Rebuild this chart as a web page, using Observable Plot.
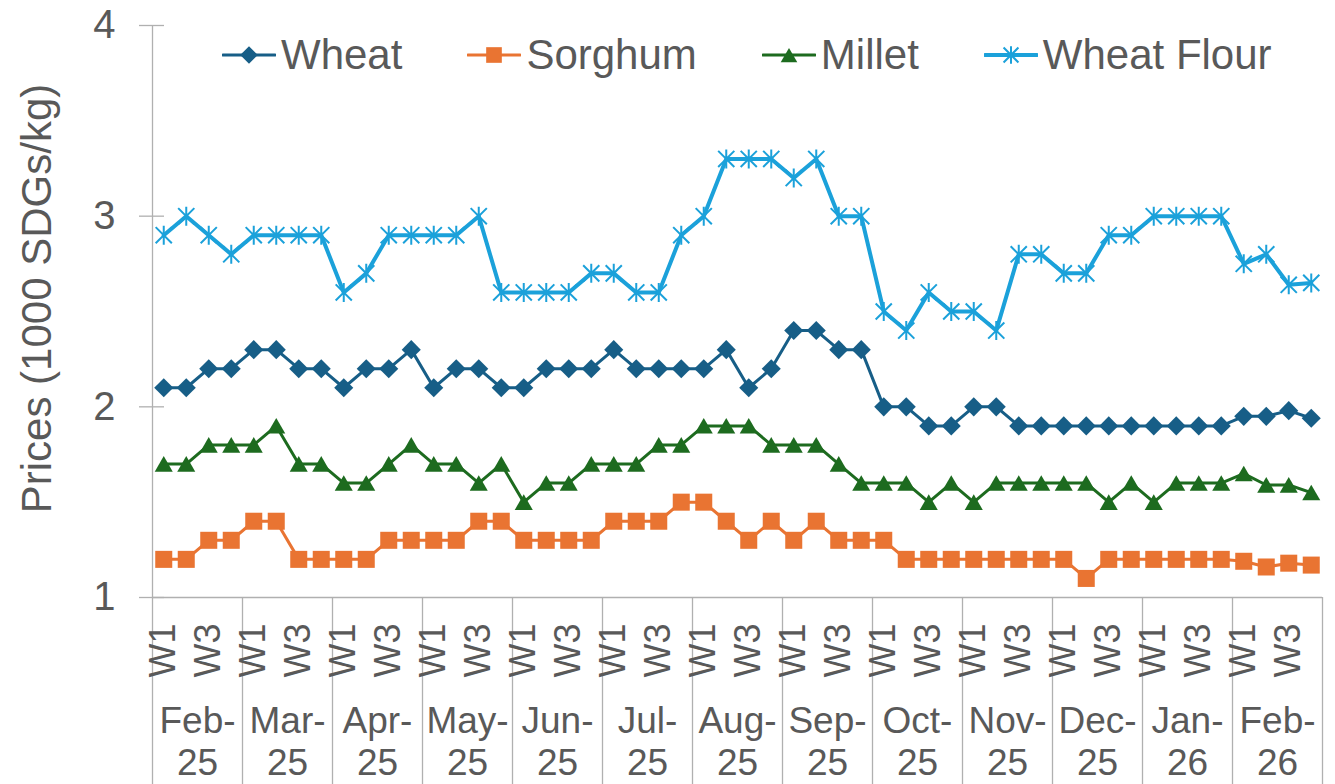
<!DOCTYPE html>
<html><head><meta charset="utf-8">
<script src="https://cdn.jsdelivr.net/npm/d3@7"></script>
<script src="https://cdn.jsdelivr.net/npm/@observablehq/plot@0.6"></script>
<style>
body{margin:0;background:#fff;font-family:"Liberation Sans",Arial,sans-serif;}
#wrap{position:relative;width:1335px;height:784px;}
#legend{position:absolute;left:222px;top:34px;display:flex;align-items:center;gap:65px;font-size:42px;line-height:42px;color:#595959;white-space:nowrap;}
.item{display:flex;align-items:center;}
.item svg{margin-right:5px;display:block;}
</style></head><body><div id="wrap"><div id="legend"></div></div>
<script>
// ---- data ----
const months = ["Feb-\n25","Mar-\n25","Apr-\n25","May-\n25","Jun-\n25","Jul-\n25","Aug-\n25","Sep-\n25","Oct-\n25","Nov-\n25","Dec-\n25","Jan-\n26","Feb-\n26"];
const weeks = ["W1","W2","W3","W4"];
const shownWeeks = ["W1","W3"];
const yTicks = [1,2,3,4];
const yTitle = "Prices (1000 SDGs/kg)";
const seriesNames = ["Wheat","Sorghum","Millet","Wheat Flour"];

const wheat = [2.1,2.1,2.2,2.2, 2.3,2.3,2.2,2.2, 2.1,2.2,2.2,2.3, 2.1,2.2,2.2,2.1, 2.1,2.2,2.2,2.2, 2.3,2.2,2.2,2.2, 2.2,2.3,2.1,2.2, 2.4,2.4,2.3,2.3, 2.0,2.0,1.9,1.9, 2.0,2.0,1.9,1.9, 1.9,1.9,1.9,1.9, 1.9,1.9,1.9,1.9, 1.95,1.95,1.98,1.94];
const sorghum = [1.2,1.2,1.3,1.3, 1.4,1.4,1.2,1.2, 1.2,1.2,1.3,1.3, 1.3,1.3,1.4,1.4, 1.3,1.3,1.3,1.3, 1.4,1.4,1.4,1.5, 1.5,1.4,1.3,1.4, 1.3,1.4,1.3,1.3, 1.3,1.2,1.2,1.2, 1.2,1.2,1.2,1.2, 1.2,1.1,1.2,1.2, 1.2,1.2,1.2,1.2, 1.19,1.16,1.18,1.17];
const millet = [1.7,1.7,1.8,1.8, 1.8,1.9,1.7,1.7, 1.6,1.6,1.7,1.8, 1.7,1.7,1.6,1.7, 1.5,1.6,1.6,1.7, 1.7,1.7,1.8,1.8, 1.9,1.9,1.9,1.8, 1.8,1.8,1.7,1.6, 1.6,1.6,1.5,1.6, 1.5,1.6,1.6,1.6, 1.6,1.6,1.5,1.6, 1.5,1.6,1.6,1.6, 1.65,1.59,1.59,1.55];
const wheatFlour = [2.9,3.0,2.9,2.8, 2.9,2.9,2.9,2.9, 2.6,2.7,2.9,2.9, 2.9,2.9,3.0,2.6, 2.6,2.6,2.6,2.7, 2.7,2.6,2.6,2.9, 3.0,3.3,3.3,3.3, 3.2,3.3,3.0,3.0, 2.5,2.4,2.6,2.5, 2.5,2.4,2.8,2.8, 2.7,2.7,2.9,2.9, 3.0,3.0,3.0,3.0, 2.75,2.8,2.64,2.65];

// ---- styles ----
const textColor = "#595959";
const lineColor = "#b0b0b0";
const asterisk = {
  draw(ctx, size) {
    const r = Math.sqrt(size / Math.PI), d = r * 0.85;
    ctx.moveTo(0, -r); ctx.lineTo(0, r);
    ctx.moveTo(-d, -d); ctx.lineTo(d, d);
    ctx.moveTo(-d, d); ctx.lineTo(d, -d);
  }
};
const styles = [
  {color: "#175E87", symbol: "diamond2", r: 8.6, width: 3, filled: true, dy: 0},
  {color: "#E97432", symbol: "square", r: 9.6, width: 3, filled: true, dy: 0},
  {color: "#1D6B1F", symbol: "triangle", r: 6.7, width: 3, filled: true, dy: 2.5},
  {color: "#1BA1DA", symbol: asterisk, r: 9.5, width: 4, filled: false, dy: 0}
];

const valuesList = [wheat, sorghum, millet, wheatFlour];
const n = wheat.length;
const rows = [];
seriesNames.forEach((name, s) => valuesList[s].forEach((v, i) => rows.push({series: name, i, v})));

const monthBounds = months.map((m, k) => k * weeks.length - 0.5).concat([months.length * weeks.length - 0.5]);
const weekTicks = d3.range(n).filter(i => shownWeeks.includes(weeks[i % weeks.length]));

const marks = [
  Plot.ruleX([monthBounds[0]], {stroke: lineColor, strokeWidth: 1.3}),
  Plot.ruleY([yTicks[0]], {stroke: lineColor, strokeWidth: 1.3}),
  Plot.axisX(monthBounds, {tickSize: 187, tickFormat: () => "", label: null, stroke: lineColor, strokeWidth: 1.3}),
  Plot.axisY(yTicks, {tickSize: 25, dx: 12, tickFormat: () => "", label: null, stroke: lineColor, strokeWidth: 1.3}),
  Plot.axisY(yTicks, {tickSize: 0, tickPadding: 37, tickFormat: d => String(d), label: null, fontSize: 40, fill: textColor}),
  Plot.axisX(weekTicks, {tickSize: 0, tickPadding: 26, tickRotate: -90, tickFormat: i => weeks[i % weeks.length], label: null, fontSize: 36, fill: textColor}),
  Plot.text(months, {x: (d, k) => k * weeks.length + (weeks.length - 1) / 2, text: d => d, frameAnchor: "bottom", lineAnchor: "top", dy: 106, lineHeight: 1.135, fontSize: 37, fill: textColor}),
  Plot.text([yTitle], {frameAnchor: "left", rotate: -90, dx: -115, dy: -13, fontSize: 42, lineAnchor: "middle", textAnchor: "middle", fill: textColor})
];
seriesNames.forEach((name, s) => {
  const st = styles[s];
  const data = rows.filter(d => d.series === name);
  marks.push(Plot.line(data, {x: "i", y: "v", stroke: st.color, strokeWidth: st.width, strokeLinejoin: "round"}));
});
seriesNames.forEach((name, s) => {
  const st = styles[s];
  const data = rows.filter(d => d.series === name);
  marks.push(Plot.dot(data, st.filled
    ? {x: "i", y: "v", symbol: st.symbol, r: st.r, fill: st.color, stroke: "none", dy: st.dy}
    : {x: "i", y: "v", symbol: st.symbol, r: st.r, fill: "none", stroke: st.color, strokeWidth: 2}));
});

const chart = Plot.plot({
  width: 1335, height: 784,
  marginLeft: 152, marginRight: 13, marginTop: 25, marginBottom: 187,
  x: {type: "linear", domain: [-0.5, n - 0.5]},
  y: {domain: [yTicks[0], yTicks[yTicks.length - 1]]},
  style: {fontFamily: '"Liberation Sans", Arial, sans-serif', color: textColor, background: "white", overflow: "visible"},
  marks
});
document.getElementById("wrap").prepend(chart);

// ---- legend ----
const legend = document.getElementById("legend");
seriesNames.forEach((name, s) => {
  const st = styles[s];
  const item = document.createElement("div");
  item.className = "item";
  const svg = d3.create("svg").attr("width", 54).attr("height", 42);
  svg.append("line").attr("x1", 1).attr("x2", 53).attr("y1", 21).attr("y2", 21)
    .attr("stroke", st.color).attr("stroke-width", st.width).attr("stroke-linecap", "round");
  const sym = typeof st.symbol === "string"
    ? {diamond2: d3.symbolDiamond2, square: d3.symbolSquare, triangle: d3.symbolTriangle}[st.symbol]
    : st.symbol;
  const lr = st.r * 0.92;
  const path = d3.symbol(sym, Math.PI * lr * lr)();
  svg.append("path").attr("d", path)
    .attr("transform", `translate(27,${21 + st.dy})`)
    .attr("fill", st.filled ? st.color : "none")
    .attr("stroke", st.filled ? "none" : st.color)
    .attr("stroke-width", 2);
  item.appendChild(svg.node());
  const span = document.createElement("span");
  span.textContent = name;
  item.appendChild(span);
  legend.appendChild(item);
});
</script>
</body></html>
